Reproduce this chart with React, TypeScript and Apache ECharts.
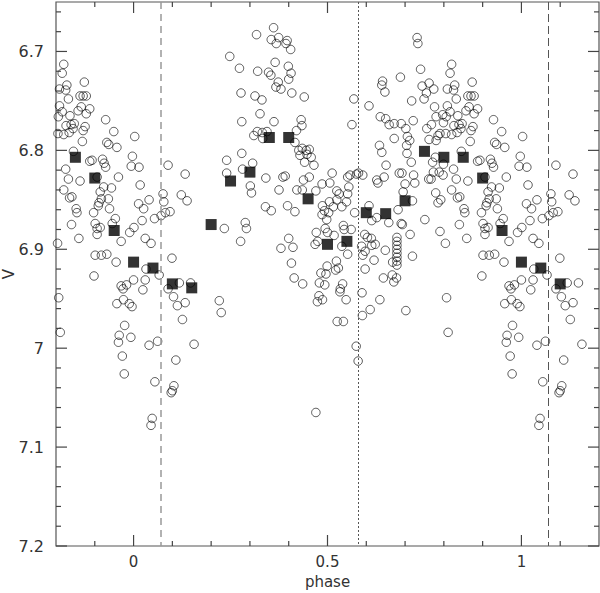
import React, { useEffect, useRef } from "react";
import * as echarts from "echarts";

// Phase-folded photometry: base phases in [0,1); repeated outside [0,1) within the plotted -0.2..1.2 range
const circlesEarly: number[][] = [
  [0.003,6.786],[0.014,6.817],[0.089,6.815],[0.017,6.835],[0.133,6.824],
  [0.001,6.878],[0.013,6.854],[0.026,6.859],[0.040,6.850],[0.022,6.871],[0.054,6.869],[0.071,6.866],[0.082,6.863],[0.094,6.862],[0.078,6.852],[0.076,6.844],[0.030,6.889],[0.045,6.894],[0.123,6.845],[0.138,6.851],[0.234,6.879],[0.099,6.909],[0.032,6.920],[0.066,6.926],[0.000,6.931],[0.024,6.941],[0.030,6.931],[0.089,6.940],[0.118,6.934],[0.147,6.934],[0.103,6.948],[0.113,6.957],[0.133,6.954],[0.126,6.971],[0.221,6.952],[0.226,6.964],[0.062,6.993],[0.040,6.997],[0.156,6.996],[0.109,7.012],[0.055,7.034],[0.104,7.038],[0.100,7.043],[0.097,7.045],[0.048,7.071],[0.045,7.078],
  [0.248,6.705],[0.240,6.810],[0.240,6.823]
];
const circlesRise: number[][] = [
  [0.361,6.676],[0.317,6.683],[0.355,6.688],[0.374,6.686],[0.368,6.692],[0.396,6.689],[0.393,6.692],[0.405,6.698],[0.273,6.717],[0.320,6.720],[0.365,6.711],[0.348,6.721],[0.354,6.724],[0.399,6.715],[0.406,6.722],[0.400,6.728],[0.373,6.731],[0.367,6.736],[0.380,6.738],[0.408,6.742],[0.440,6.746],[0.277,6.742],[0.313,6.745],[0.331,6.749],[0.326,6.763],[0.279,6.771],[0.362,6.771],[0.432,6.769],[0.434,6.775],[0.420,6.780],[0.310,6.785],[0.319,6.781],[0.332,6.782],[0.344,6.781],[0.333,6.788],[0.416,6.792],[0.426,6.800],[0.435,6.798],[0.445,6.800],[0.453,6.799],[0.429,6.805],[0.447,6.804],[0.458,6.807],[0.441,6.812],[0.465,6.815],[0.279,6.803],[0.307,6.813],[0.281,6.819],[0.385,6.827],[0.391,6.826],[0.341,6.828],[0.438,6.830],[0.453,6.827],[0.301,6.836],[0.304,6.843],[0.375,6.840],[0.421,6.840],[0.435,6.840],[0.486,6.834],
  [0.340,6.857],[0.355,6.861],[0.397,6.856],[0.416,6.862],[0.288,6.873],[0.291,6.879],[0.276,6.892],[0.380,6.899],[0.400,6.889],[0.411,6.898],[0.407,6.914],[0.414,6.929],[0.436,6.935],[0.470,6.841],[0.487,6.856],[0.492,6.861],[0.498,6.870],[0.494,6.879],[0.500,6.883],[0.471,6.883],[0.468,6.895],[0.475,6.892],[0.499,6.917],[0.496,6.925],[0.483,6.924],[0.479,6.934],[0.493,6.936],[0.478,6.947],[0.487,6.951],[0.474,6.953],[0.470,7.065],[0.486,6.865]
];
const circlesMid: number[][] = [
  [0.506,6.833],[0.524,6.841],[0.530,6.844],[0.512,6.823],[0.552,6.827],[0.558,6.825],[0.575,6.824],[0.580,6.823],[0.591,6.825],[0.555,6.837],[0.552,6.844],[0.568,6.748],[0.607,6.755],[0.563,6.774],[0.642,6.730],[0.640,6.734],[0.648,6.741],[0.688,6.726],[0.636,6.766],[0.650,6.768],[0.659,6.774],[0.672,6.773],[0.672,6.788],[0.634,6.795],[0.640,6.802],[0.651,6.815],[0.627,6.830],[0.630,6.833],[0.646,6.827],[0.685,6.823],
  [0.505,6.852],[0.503,6.863],[0.515,6.857],[0.524,6.850],[0.537,6.857],[0.549,6.852],[0.517,6.886],[0.541,6.876],[0.543,6.880],[0.561,6.880],[0.537,6.897],[0.552,6.905],[0.570,6.863],[0.523,6.912],[0.528,6.919],[0.521,6.921],[0.539,6.935],[0.533,6.940],[0.532,6.943],[0.548,6.951],[0.525,6.973],[0.541,6.973],[0.574,6.998],[0.579,7.013],[0.589,6.944],[0.635,6.951],[0.610,6.961],[0.590,6.967],[0.607,6.856],[0.614,6.871],[0.627,6.868],[0.596,6.885],[0.603,6.888],[0.613,6.889],[0.623,6.895],[0.614,6.896],[0.588,6.897],[0.591,6.906],[0.597,6.902],[0.649,6.901],[0.620,6.911],[0.597,6.920],[0.658,6.873],[0.682,6.860],[0.690,6.874],[0.693,6.875],[0.668,6.913],[0.644,6.929],[0.667,6.926],[0.678,6.929],[0.671,6.933],[0.679,6.888],[0.679,6.892],[0.679,6.896],[0.679,6.900],[0.679,6.904],[0.679,6.908],[0.679,6.912],[0.679,6.916],[0.695,6.842]
];
const circlesLate: number[][] = [
  [0.702,6.962],[0.713,6.885],[0.719,6.907],[0.719,6.851],[0.792,6.850],[0.785,6.853],[0.751,6.870],[0.790,6.882],
  [0.731,6.686],[0.733,6.692],[0.740,6.718],[0.744,6.735],[0.755,6.742],[0.762,6.732],[0.749,6.748],[0.774,6.738],[0.717,6.750],[0.776,6.756],[0.690,6.773],[0.721,6.770],[0.702,6.778],[0.780,6.766],[0.756,6.778],[0.768,6.774],[0.706,6.786],[0.712,6.790],[0.762,6.789],[0.704,6.795],[0.780,6.790],[0.785,6.785],[0.705,6.803],[0.716,6.812],[0.692,6.823],[0.700,6.834],[0.722,6.825],[0.725,6.833],[0.771,6.812],[0.778,6.807],[0.773,6.822],[0.761,6.829],[0.767,6.829],[0.779,6.843],[0.788,6.822],[0.798,6.825],[0.799,6.814],[0.790,6.783],[0.797,6.764],[0.799,6.772]
];
const circlesEnd: number[][] = [
  [0.820,6.713],[0.816,6.722],[0.828,6.734],[0.825,6.739],[0.809,6.738],[0.873,6.731],[0.832,6.748],[0.862,6.745],[0.870,6.745],[0.878,6.745],[0.809,6.755],[0.816,6.761],[0.806,6.766],[0.865,6.756],[0.887,6.758],[0.857,6.760],[0.878,6.763],[0.836,6.765],[0.826,6.775],[0.839,6.774],[0.847,6.773],[0.844,6.778],[0.834,6.782],[0.820,6.784],[0.805,6.783],[0.875,6.776],[0.870,6.780],[0.928,6.769],[0.949,6.781],[0.868,6.791],[0.931,6.792],[0.936,6.794],[0.957,6.797],[0.845,6.801],[0.997,6.806],[0.887,6.811],[0.893,6.810],[0.920,6.809],[0.924,6.813],[0.928,6.817],[0.994,6.816],[0.825,6.819],[0.832,6.829],[0.862,6.831],[0.906,6.827],[0.961,6.827],[0.923,6.837],[0.943,6.838],
  [0.820,6.840],[0.841,6.847],[0.835,6.848],[0.852,6.859],[0.854,6.863],[0.840,6.875],[0.859,6.889],[0.804,6.894],[0.914,6.842],[0.917,6.849],[0.911,6.853],[0.909,6.856],[0.897,6.863],[0.938,6.859],[0.935,6.849],[0.901,6.874],[0.906,6.879],[0.914,6.878],[0.906,6.885],[0.953,6.869],[0.945,6.874],[0.968,6.892],[0.990,6.883],[0.901,6.906],[0.917,6.906],[0.931,6.905],[0.955,6.913],[0.898,6.927],[0.968,6.937],[0.973,6.940],[0.982,6.936],[0.807,6.949],[0.974,6.951],[0.957,6.955],[0.989,6.955],[0.996,6.958],[0.977,6.977],[0.811,6.984],[0.963,6.987],[0.961,6.994],[0.993,6.989],[0.971,7.008],[0.976,7.026]
];

// Binned means (filled squares)
const squarePhase = [-0.15,-0.1,-0.05,0,0.05,0.1,0.15,0.2,0.25,0.3,0.35,0.4,0.45,0.5,0.55,0.6,0.65,0.7,0.75,0.8,0.85,0.9,0.95,1.0,1.05,1.1];
const squareMag = [6.807,6.828,6.881,6.913,6.919,6.935,6.939,6.875,6.831,6.822,6.787,6.787,6.849,6.895,6.892,6.863,6.864,6.851,6.801,6.807,6.807,6.828,6.881,6.913,6.919,6.935];

// Reference lines
const dashedPhases = [0.07, 1.07];
const dottedPhase = 0.58;

// Axis ticks
const xLabelValues = [0, 0.5, 1];
const xMinorTicks = [-0.1,0.1,0.2,0.3,0.4,0.6,0.7,0.8,0.9,1.1];
const yLabelValues = [6.7, 6.8, 6.9, 7.0, 7.1, 7.2];
const yMinorTicks = [6.66,6.68,6.72,6.74,6.76,6.78,6.82,6.84,6.86,6.88,6.92,6.94,6.96,6.98,7.02,7.04,7.06,7.08,7.12,7.14,7.16,7.18];

const X_MIN = -0.2, X_MAX = 1.2, Y_MIN = 6.65, Y_MAX = 7.2;

export default function App() {
  const ref = useRef<HTMLDivElement>(null);
  useEffect(() => {
    if (!ref.current) return;
    const chart = echarts.init(ref.current, undefined, { renderer: "svg" });
    const base = [...circlesEarly, ...circlesRise, ...circlesMid, ...circlesLate, ...circlesEnd];
    const circles: number[][] = [];
    base.forEach(([p, v]) => {
      circles.push([p, v]);
      if (p - 1 >= X_MIN) circles.push([p - 1, v]);
      if (p + 1 <= X_MAX) circles.push([p + 1, v]);
    });
    const squares = squarePhase.map((p, i) => [p, squareMag[i]]);
    const font = "DejaVu Sans";
    const fmt = (v: number) => String(+(+v).toFixed(2));

    // Tick rows: [value, side (0 bottom, 1 top, 2 left, 3 right), length px]
    const MAJ = 11, MIN = 5;
    const tickRows: number[][] = [];
    xLabelValues.forEach((v) => { tickRows.push([v, 0, MAJ]); tickRows.push([v, 1, MAJ]); });
    xMinorTicks.forEach((v) => { tickRows.push([v, 0, MIN]); tickRows.push([v, 1, MIN]); });
    yLabelValues.forEach((v) => { tickRows.push([v, 2, MAJ]); tickRows.push([v, 3, MAJ]); });
    yMinorTicks.forEach((v) => { tickRows.push([v, 2, MIN]); tickRows.push([v, 3, MIN]); });

    const renderTick = (_params: any, api: any) => {
      const v = api.value(0), side = api.value(1), len = api.value(2);
      let p: number[], q: number[];
      if (side === 0) { p = api.coord([v, Y_MAX]); q = [p[0], p[1] - len]; }
      else if (side === 1) { p = api.coord([v, Y_MIN]); q = [p[0], p[1] + len]; }
      else if (side === 2) { p = api.coord([X_MIN, v]); q = [p[0] + len, p[1]]; }
      else { p = api.coord([X_MAX, v]); q = [p[0] - len, p[1]]; }
      return {
        type: "line",
        shape: { x1: p[0], y1: p[1], x2: q[0], y2: q[1] },
        style: { stroke: "#444", lineWidth: 1.2 },
        silent: true,
      };
    };

    chart.setOption({
      animation: false,
      backgroundColor: "#fff",
      grid: { left: 56, right: 1, top: 2, bottom: 47, outerBoundsMode: "none", show: true, borderColor: "#555", borderWidth: 1.2, backgroundColor: "transparent" },
      xAxis: {
        type: "value", min: X_MIN, max: X_MAX, position: "bottom", splitLine: { show: false },
        axisLine: { show: false }, axisTick: { show: false },
        axisLabel: { show: true, customValues: xLabelValues, formatter: fmt, margin: 8, fontSize: 15, color: "#333", fontFamily: font },
        name: "phase", nameLocation: "middle", nameGap: 28, nameMoveOverlap: false, nameTextStyle: { fontSize: 15, color: "#333", fontFamily: font },
      },
      yAxis: {
        type: "value", min: Y_MIN, max: Y_MAX, inverse: true, position: "left", splitLine: { show: false },
        axisLine: { show: false }, axisTick: { show: false },
        axisLabel: { show: true, customValues: yLabelValues, formatter: fmt, margin: 12, fontSize: 16, color: "#333", fontFamily: font },
        name: "V", nameLocation: "middle", nameRotate: 90, nameGap: 40, nameMoveOverlap: false, nameTextStyle: { fontSize: 15, color: "#333", fontFamily: font },
      },
      series: [
        {
          type: "scatter", xAxisIndex: 0, yAxisIndex: 0, data: circles, symbol: "circle", symbolSize: 8.5,
          itemStyle: { color: "rgba(255,255,255,0)", borderColor: "#000", borderWidth: 0.8 },
          silent: true, z: 2,
          markLine: {
            silent: true, symbol: ["none", "none"], label: { show: false },
            data: [
              { xAxis: dashedPhases[0], lineStyle: { color: "#999", width: 1.5, type: [7, 5] } },
              { xAxis: dashedPhases[1], lineStyle: { color: "#555", width: 1, type: [8, 4] } },
              { xAxis: dottedPhase, lineStyle: { color: "#555", width: 1, type: [2, 2] } },
            ],
          },
        },
        {
          type: "scatter", xAxisIndex: 0, yAxisIndex: 0, data: squares, symbol: "rect", symbolSize: 11,
          itemStyle: { color: "#000" }, silent: true, z: 3,
        },
        {
          type: "custom", xAxisIndex: 0, yAxisIndex: 0, data: tickRows, renderItem: renderTick,
          clip: false, silent: true, z: 5,
        },
      ],
    });
    return () => chart.dispose();
  }, []);
  return <div ref={ref} style={{ position: "absolute", left: 0, top: 0, width: 600, height: 593 }} />;
}
